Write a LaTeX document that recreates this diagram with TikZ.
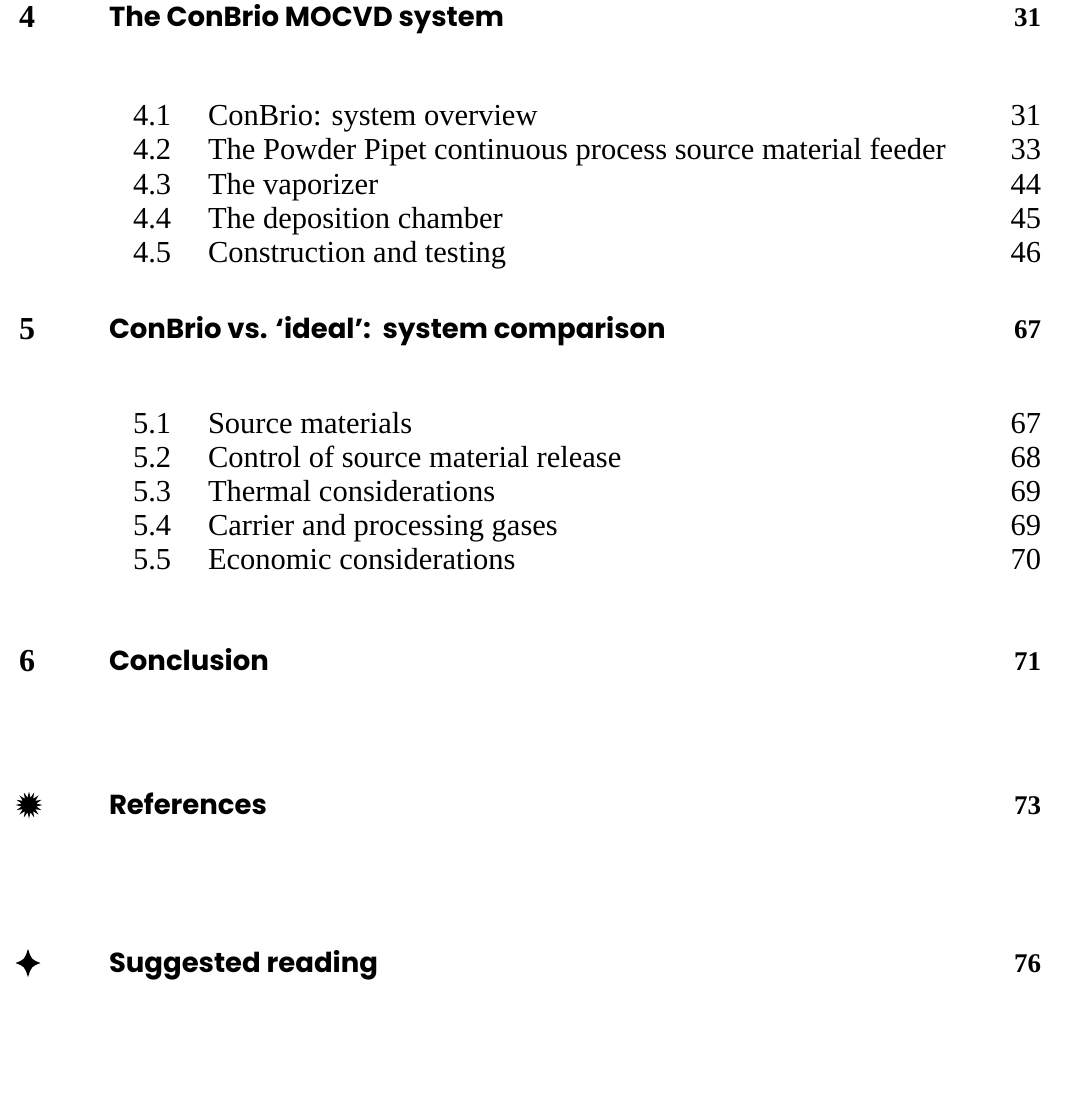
\documentclass[tikz,border=0pt]{standalone}
\usepackage{fontspec}
\setmainfont{Liberation Serif}
\newfontfamily\headfont{Poppins}
\usetikzlibrary{shapes.geometric}
\begin{document}
\begin{tikzpicture}[x=1pt,y=-1pt,
  every node/.style={inner sep=0pt,outer sep=0pt},
  chapnum/.style={anchor=base west,font=\fontsize{32}{32}\selectfont\bfseries},
  chaptitle/.style={anchor=base west,font=\fontsize{27.5}{27.5}\selectfont\headfont\bfseries},
  chappage/.style={anchor=base east,font=\fontsize{27}{27}\selectfont\bfseries},
  secnum/.style={anchor=base west,font=\fontsize{30.5}{30.5}\selectfont},
  sectitle/.style={anchor=base west,font=\fontsize{30.5}{30.5}\selectfont},
  secpage/.style={anchor=base east,font=\fontsize{30.5}{30.5}\selectfont}]
\useasboundingbox (0,0) rectangle (1066,1097);
\fill[white] (0,0) rectangle (1066,1097);
% Chapter 4
\node[chapnum] (c4n) at (19,28) {4};
\node[chaptitle] (c4t) at (109,27) {The ConBrio MOCVD system};
\node[chappage] (c4p) at (1041,27) {31};
\node[secnum] (s41n) at (133,126) {4.1};
\node[sectitle] (s41t) at (208,126) {ConBrio: system overview};
\node[secpage] (s41p) at (1041,126) {31};
\node[secnum] (s42n) at (133,160) {4.2};
\node[sectitle] (s42t) at (208,160) {The Powder Pipet continuous process source material feeder};
\node[secpage] (s42p) at (1041,160) {33};
\node[secnum] (s43n) at (133,194) {4.3};
\node[sectitle] (s43t) at (208,194) {The vaporizer};
\node[secpage] (s43p) at (1041,194) {44};
\node[secnum] (s44n) at (133,228) {4.4};
\node[sectitle] (s44t) at (208,228) {The deposition chamber};
\node[secpage] (s44p) at (1041,228) {45};
\node[secnum] (s45n) at (133,262) {4.5};
\node[sectitle] (s45t) at (208,262) {Construction and testing};
\node[secpage] (s45p) at (1041,262) {46};
% Chapter 5
\node[chapnum] (c5n) at (19,339) {5};
\node[chaptitle] (c5t) at (109,338) {ConBrio vs. ‘ideal’:\ \ system comparison};
\node[chappage] (c5p) at (1041,338) {67};
\node[secnum] (s51n) at (133,433) {5.1};
\node[sectitle] (s51t) at (208,433) {Source materials};
\node[secpage] (s51p) at (1041,433) {67};
\node[secnum] (s52n) at (133,467) {5.2};
\node[sectitle] (s52t) at (208,467) {Control of source material release};
\node[secpage] (s52p) at (1041,467) {68};
\node[secnum] (s53n) at (133,501) {5.3};
\node[sectitle] (s53t) at (208,501) {Thermal considerations};
\node[secpage] (s53p) at (1041,501) {69};
\node[secnum] (s54n) at (133,535) {5.4};
\node[sectitle] (s54t) at (208,535) {Carrier and processing gases};
\node[secpage] (s54p) at (1041,535) {69};
\node[secnum] (s55n) at (133,569) {5.5};
\node[sectitle] (s55t) at (208,569) {Economic considerations};
\node[secpage] (s55p) at (1041,569) {70};
% Chapter 6
\node[chapnum] (c6n) at (19,671) {6};
\node[chaptitle] (c6t) at (109,670) {Conclusion};
\node[chappage] (c6p) at (1041,670) {71};
% References
\node[star,star points=16,star point ratio=1.8,minimum size=27pt,fill=black,draw=none] (refsym) at (29,805) {};
\node[chaptitle] (reft) at (109,814) {References};
\node[chappage] (refp) at (1041,814) {73};
% Suggested reading
\begin{scope}[shift={(28,963)}]
\fill[black] (0,-14) .. controls (3.5,-3.5) .. (12.5,0)
  .. controls (3.5,3.5) .. (0,14)
  .. controls (-3.5,3.5) .. (-12.5,0)
  .. controls (-3.5,-3.5) .. cycle;
\end{scope}
\node[chaptitle] (sugt) at (109,972) {Suggested reading};
\node[chappage] (sugp) at (1041,972) {76};
\end{tikzpicture}
\end{document}
